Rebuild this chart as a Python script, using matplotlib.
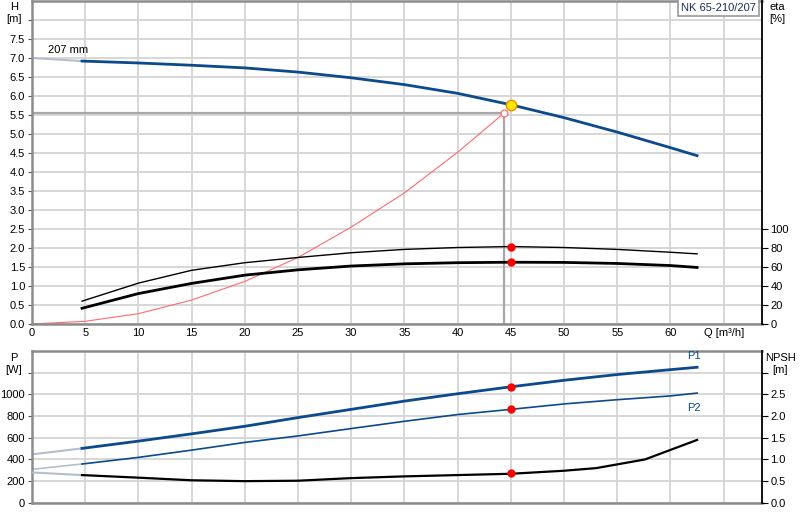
import matplotlib
matplotlib.use('Agg')
import matplotlib.pyplot as plt

plt.rcParams['font.family'] = ['Liberation Sans', 'DejaVu Sans']
plt.rcParams['font.size'] = 8

# Q/H curve (207 mm impeller)
q_h = [0, 4.7, 10, 15, 20, 25, 30, 35, 40, 45, 50, 55, 60, 62.5]
h = [7.0, 6.92, 6.87, 6.81, 6.74, 6.63, 6.48, 6.3, 6.07, 5.77, 5.43, 5.05, 4.64, 4.43]

# efficiency curves [%]
q_eta = [4.7, 10, 15, 20, 25, 30, 35, 40, 45, 50, 55, 60, 62.5]
eta_pump = [24, 43, 56.5, 64.5, 70, 75, 78.5, 80.5, 81.5, 80.5, 78.5, 75.5, 73.8]
eta_total = [16.5, 32, 42.7, 51.4, 57, 61, 63.3, 64.5, 65, 64.8, 63.7, 61.5, 59.5]

# system curve
q_sys = [0, 5, 10, 15, 20, 25, 30, 35, 40, 44.4]
h_sys = [0, 0.07, 0.27, 0.63, 1.12, 1.75, 2.55, 3.45, 4.52, 5.56]

# power and NPSH
q_p = [0, 4.7, 10, 15, 20, 25, 30, 35, 40, 45, 50, 55, 60, 62.5]
p1 = [447, 502, 569, 636, 706, 786, 862, 938, 1006, 1070, 1130, 1183, 1228, 1250]
p2 = [309, 358, 419, 486, 557, 617, 685, 752, 814, 862, 912, 951, 986, 1012]
q_npsh = [0, 4.7, 10, 15, 20, 25, 30, 35, 40, 45, 50, 53, 57.6, 62.5]
npsh = [0.70, 0.64, 0.58, 0.52, 0.50, 0.51, 0.57, 0.61, 0.64, 0.67, 0.74, 0.80, 1.0, 1.45]

duty_q, duty_h = 45, 5.76
req_q, req_h = 44.4, 5.56
duty_eta = [81.5, 65]
duty_p = [1070, 862]
duty_npsh = 0.68

h_ticks = [0, 0.5, 1, 1.5, 2, 2.5, 3, 3.5, 4, 4.5, 5, 5.5, 6, 6.5, 7, 7.5, 8]
eta_ticks = [0, 20, 40, 60, 80, 100]
q_ticks = [0, 5, 10, 15, 20, 25, 30, 35, 40, 45, 50, 55, 60, 65]
p_ticks = [0, 200, 400, 600, 800, 1000, 1200]
npsh_ticks = [0, 0.5, 1, 1.5, 2, 2.5, 3]

blue = '#0b4a8b'
light = '#b3bfcf'
grid_c = '#d4d4d4'
spine_c = '#8c8c8c'


def style_axes(ax, twin):
    ax.grid(True, color=grid_c, lw=1.3)
    ax.set_axisbelow(True)
    for s in ['left', 'bottom', 'top']:
        ax.spines[s].set_color(spine_c)
        ax.spines[s].set_linewidth(1.8)
    ax.spines['right'].set_visible(False)
    for s in ['left', 'bottom', 'top']:
        twin.spines[s].set_visible(False)
    twin.spines['right'].set_color('black')
    twin.spines['right'].set_linewidth(1.3)
    ax.tick_params(axis='y', length=3, color='#555555', pad=2)
    twin.tick_params(axis='y', length=4, color='black', pad=2)
    ax.set_xlim(0, 68.6)


fig = plt.figure(figsize=(8, 5.2), dpi=100)
ax = fig.add_axes([0.04, 0.377, 0.9125, 0.621])
ax2 = ax.twinx()
style_axes(ax, ax2)

ax.set_ylim(0, 8.5)
ax.set_yticks(h_ticks)
ax.set_yticklabels([f'{v:.1f}' for v in h_ticks[:-1]] + [''])
ax.set_xticks(q_ticks)
ax.set_xticklabels([str(v) for v in q_ticks[:-1]] + ['Q [m³/h]'])
ax.tick_params(axis='x', length=0, pad=3)
ax2.set_ylim(0, 340)
ax2.set_yticks(eta_ticks)

ax.plot(q_h[:2], h[:2], color=light, lw=1.5)
ax.plot(q_h[1:], h[1:], color=blue, lw=2)
ax.plot(q_sys, h_sys, color='#ff6b6b', lw=0.8)
ax.plot([0, req_q], [req_h, req_h], color='#a8a8a8', lw=1.6, zorder=1.5)
ax.plot([req_q, req_q], [0, req_h], color='#a8a8a8', lw=1.6, zorder=1.5)
ax.plot(req_q, req_h, 'o', ms=5, mfc='white', mec='#ff6b6b', mew=0.9)
ax.plot(duty_q, duty_h, 'o', ms=7.5, mfc='#ffe600', mec='#f08c00', mew=1, zorder=5)
ax.text(1.5, 7.12, '207 mm', fontsize=8)
ax.text(0.992, 0.995, 'NK 65-210/207', transform=ax.transAxes, ha='right', va='top',
        color='#1c2f5a', fontsize=8,
        bbox=dict(boxstyle='square,pad=0.3', fc='white', ec='#9a9a9a', lw=1.2))

ax2.plot(q_eta, eta_pump, color='black', lw=1)
ax2.plot(q_eta, eta_total, color='black', lw=2)
ax2.plot([duty_q, duty_q], duty_eta, 'o', color='red', ms=5, ls='none', zorder=5)

fig.text(0.0175, 0.997, 'H\n[m]', ha='center', va='top', fontsize=8, linespacing=1.3)
fig.text(0.962, 0.997, 'eta\n[%]', ha='left', va='top', fontsize=8, linespacing=1.3)

# lower panel
bx = fig.add_axes([0.04, 0.033, 0.9125, 0.292])
bx2 = bx.twinx()
style_axes(bx, bx2)
bx.set_ylim(0, 1400)
bx.set_yticks(p_ticks)
bx.set_yticklabels([str(v) for v in p_ticks[:-1]] + [''])
bx.set_xticks(q_ticks)
bx.set_xticklabels([])
bx.tick_params(axis='x', length=0)
bx2.set_ylim(0, 3.5)
bx2.set_yticks(npsh_ticks)
bx2.set_yticklabels([f'{v:.1f}' for v in npsh_ticks[:-1]] + [''])

bx.plot(q_p[:2], p1[:2], color=light, lw=1.5)
bx.plot(q_p[1:], p1[1:], color=blue, lw=2)
bx.plot(q_p[:2], p2[:2], color=light, lw=1.2)
bx.plot(q_p[1:], p2[1:], color=blue, lw=1.2)
bx.plot([duty_q, duty_q], duty_p, 'o', color='red', ms=5, ls='none', zorder=5)
bx.text(62.2, 1330, 'P1', color=blue, ha='center', fontsize=8)
bx.text(62.2, 920, 'P2', color=blue, ha='center', va='top', fontsize=8)

bx2.plot(q_npsh[:2], npsh[:2], color=light, lw=1.5)
bx2.plot(q_npsh[1:], npsh[1:], color='black', lw=1.6)
bx2.plot(duty_q, duty_npsh, 'o', color='red', ms=5, zorder=5)

fig.text(0.0175, 0.322, 'P\n[W]', ha='center', va='top', fontsize=8, linespacing=1.3)
fig.text(0.975, 0.322, 'NPSH\n[m]', ha='center', va='top', fontsize=8, linespacing=1.3)

fig.savefig('out.png', dpi=100)
